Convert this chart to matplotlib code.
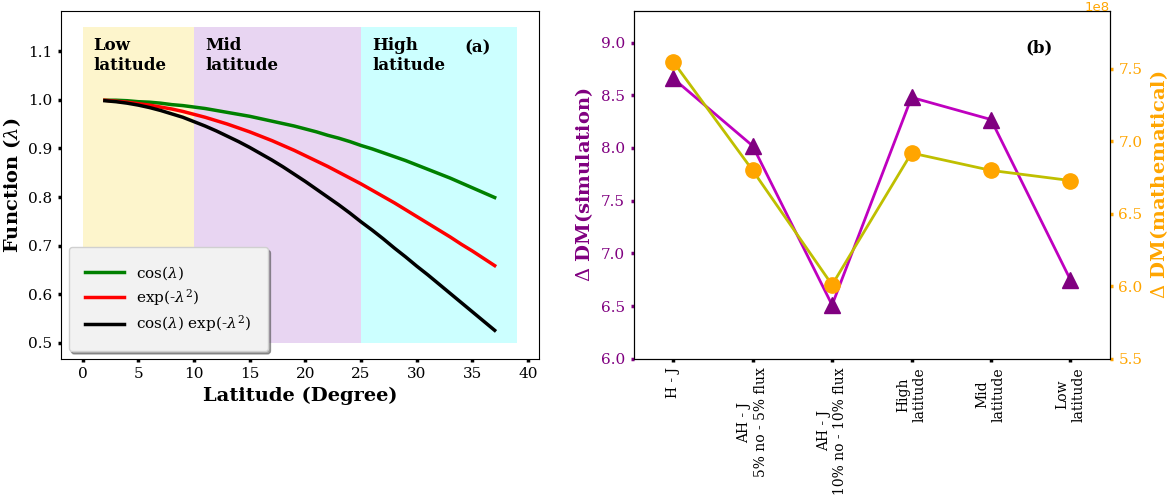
import matplotlib
matplotlib.use("Agg")
import matplotlib.pyplot as plt

plt.rcParams["mathtext.fontset"] = "dejavuserif"

# ── Panel (a): funciones vs latitud ───────────────────────────────────────
latitude = [2, 3, 4, 5, 6, 7, 8, 9, 10, 11, 12, 13, 14, 15, 16, 17, 18, 19,
            20, 21, 22, 23, 24, 25, 26, 27, 28, 29, 30, 31, 32, 33, 34, 35, 36, 37]
f_cos = [0.999, 0.999, 0.998, 0.996, 0.995, 0.993, 0.990, 0.988, 0.985, 0.982,
         0.978, 0.974, 0.970, 0.966, 0.961, 0.956, 0.951, 0.946, 0.940, 0.934,
         0.927, 0.921, 0.914, 0.906, 0.899, 0.891, 0.883, 0.875, 0.866, 0.857,
         0.848, 0.839, 0.829, 0.819, 0.809, 0.799]
f_exp = [0.999, 0.997, 0.995, 0.992, 0.989, 0.985, 0.981, 0.976, 0.970, 0.964,
         0.957, 0.950, 0.942, 0.934, 0.925, 0.916, 0.906, 0.896, 0.885, 0.874,
         0.863, 0.851, 0.839, 0.827, 0.814, 0.801, 0.788, 0.774, 0.760, 0.746,
         0.732, 0.718, 0.703, 0.689, 0.674, 0.659]
f_prod = [0.998, 0.996, 0.993, 0.989, 0.984, 0.978, 0.971, 0.964, 0.955, 0.946,
          0.936, 0.925, 0.914, 0.902, 0.889, 0.876, 0.862, 0.847, 0.832, 0.816,
          0.800, 0.784, 0.767, 0.749, 0.732, 0.714, 0.695, 0.677, 0.658, 0.640,
          0.621, 0.602, 0.583, 0.564, 0.545, 0.526]

regions = ["Low\nlatitude", "Mid\nlatitude", "High\nlatitude"]
region_edges = [(0, 10), (10, 25), (25, 39)]
region_colors = ["#fdf5cc", "#e8d5f2", "#ccffff"]

# ── Panel (b): Δ DM ───────────────────────────────────────────────────────
cases = ["H - J", "AH - J\n5% no - 5% flux", "AH - J\n10% no - 10% flux",
         "High\nlatitude", "Mid\nlatitude", "Low\nlatitude"]
dm_sim = [8.66, 8.02, 6.51, 8.48, 8.27, 6.75]
dm_math = [7.55e8, 6.80e8, 6.01e8, 6.92e8, 6.80e8, 6.73e8]

serif = "DejaVu Serif"
fig = plt.figure(figsize=(11.71, 4.99), dpi=100)
ax1 = fig.add_axes([0.052, 0.281, 0.408, 0.697])
ax2 = fig.add_axes([0.541, 0.281, 0.407, 0.697])

for (x0, x1), c in zip(region_edges, region_colors):
    ax1.fill_between([x0, x1], 0.5, 1.15, color=c, lw=0)

ax1.plot(latitude, f_cos, color="green", lw=2.5, label=r"cos($\lambda$)")
ax1.plot(latitude, f_exp, color="red", lw=2.5, label=r"exp(-$\lambda^2$)")
ax1.plot(latitude, f_prod, color="black", lw=2.5, label=r"cos($\lambda$) exp(-$\lambda^2$)")

for (x0, _), txt in zip(region_edges, regions):
    ax1.text(x0 + 1, 1.128, txt, fontsize=12, fontweight="bold",
             family=serif, va="top", ha="left")
ax1.text(35.5, 1.107, "(a)", fontsize=12, fontweight="bold", family=serif,
         va="center", ha="center")

ax1.set_xticks([0, 5, 10, 15, 20, 25, 30, 35, 40])
ax1.set_yticks([0.5, 0.6, 0.7, 0.8, 0.9, 1.0, 1.1])
ax1.set_xlabel("Latitude (Degree)", fontsize=14, fontweight="bold", family=serif)
ax1.set_ylabel(r"Function ($\lambda$)", fontsize=14, fontweight="bold", family=serif)
ax1.tick_params(direction="out", length=2.5, width=2.5, labelsize=11)
for lab in ax1.get_xticklabels() + ax1.get_yticklabels():
    lab.set_family(serif)

leg = ax1.legend(loc="lower left", prop={"family": serif, "size": 11},
                 shadow=True, borderpad=1.1, handlelength=2.5,
                 labelspacing=0.35, fancybox=True, bbox_to_anchor=(0.0, 0.0))
leg.get_frame().set_facecolor("#f2f2f2")
leg.get_frame().set_alpha(1)
leg.get_frame().set_edgecolor("#d0d0d0")

# ── Panel (b) ─────────────────────────────────────────────────────────────
xpos = list(range(len(cases)))
ax2.plot(xpos, dm_sim, color="m", lw=2, marker="^", markersize=12,
         markerfacecolor="purple", markeredgecolor="purple")
ax2.set_xlim(-0.5, 5.5)
ax2.set_ylim(6.0, 9.3)
ax2.set_yticks([6.0, 6.5, 7.0, 7.5, 8.0, 8.5, 9.0])
ax2.set_xticks(xpos)
ax2.set_xticklabels(cases, rotation=90, family=serif, fontsize=10)
ax2.set_ylabel(r"$\Delta$ DM(simulation)", color="purple", fontsize=14,
               fontweight="bold", family=serif)
ax2.tick_params(axis="y", colors="purple", labelsize=11)
ax2.tick_params(direction="out", length=2.5, width=2.5)
for lab in ax2.get_yticklabels():
    lab.set_family(serif)
ax2.text(4.6, 8.95, "(b)", fontsize=12, fontweight="bold", family=serif,
         va="center", ha="center")

ax3 = ax2.twinx()
ax3.plot(xpos, dm_math, color="y", lw=2, marker="o", markersize=11,
         markerfacecolor="orange", markeredgecolor="orange")
ax3.set_ylim(5.5e8, 7.9e8)
ax3.set_yticks([5.5e8, 6.0e8, 6.5e8, 7.0e8, 7.5e8])
ax3.set_ylabel(r"$\Delta$ DM(mathematical)", color="orange", fontsize=14,
               fontweight="bold", family=serif)
ax3.tick_params(axis="y", colors="orange", direction="out", length=2.5,
                width=2.5, labelsize=11)
for lab in ax3.get_yticklabels():
    lab.set_family(serif)
ax3.spines["right"].set_color("black")
# multiplicador del eje derecho, colocado a mano para que no se corte
ax3.yaxis.get_offset_text().set_visible(False)
fig.text(0.948, 0.998, "1e8", color="orange", fontsize=9.5,
         ha="right", va="top")

fig.savefig("out.png", dpi=100)
